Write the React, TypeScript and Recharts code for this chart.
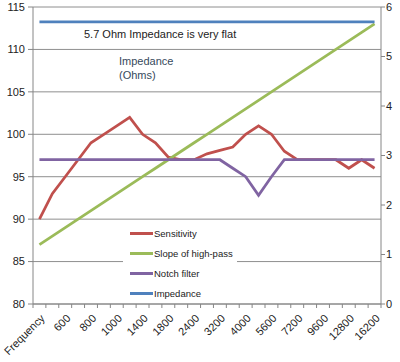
import React from "react";
import {
  CartesianGrid,
  ComposedChart,
  Legend,
  Line,
  XAxis,
  YAxis
} from "recharts";

const frequencies = [
  "Frequency", "500", "600", "700", "800", "900", "1000", "1200", "1400",
  "1600", "1800", "2000", "2400", "2800", "3200", "3600", "4000", "4800",
  "5600", "6400", "7200", "8000", "9600", "11200", "12800", "14400", "16200"
];

const sensitivity = [
  90, 93, 95, 97, 99, 100, 101, 102, 100, 99, 97.3, 97, 97, 97.7, 98.1,
  98.5, 100, 101, 100, 98, 97, 97, 97, 97, 96, 97, 96
];

const highPassSlope = [
  87, 88, 89, 90, 91, 92, 93, 94, 95, 96, 97, 98, 99, 100, 101, 102, 103,
  104, 105, 106, 107, 108, 109, 110, 111, 112, 113
];

const notchFilter = [
  97, 97, 97, 97, 97, 97, 97, 97, 97, 97, 97, 97, 97, 97, 97, 96, 95, 92.8,
  95, 97, 97, 97, 97, 97, 97, 97, 97
];

const impedance = [
  5.7, 5.7, 5.7, 5.7, 5.7, 5.7, 5.7, 5.7, 5.7, 5.7, 5.7, 5.7, 5.7, 5.7, 5.7,
  5.7, 5.7, 5.7, 5.7, 5.7, 5.7, 5.7, 5.7, 5.7, 5.7, 5.7, 5.7
];

const seriesNames = ["Sensitivity", "Slope of high-pass", "Notch filter", "Impedance"];
const leftTicks = [80, 85, 90, 95, 100, 105, 110, 115];
const rightTicks = [0, 1, 2, 3, 4, 5, 6];

const data = frequencies.map((f, i) => ({
  freq: f,
  sensitivity: sensitivity[i],
  slope: highPassSlope[i],
  notch: notchFilter[i],
  impedance: impedance[i]
}));

const W = 400;
const H = 362;
const LEFT_W = 33;
const RIGHT_W = 19;
const STEP = (W - LEFT_W - RIGHT_W) / frequencies.length;
const AXIS = "#868686";
const FONT = "'Liberation Sans', Arial, sans-serif";

function FreqTick(props: any) {
  const { x, y, payload, index } = props;
  const last = index === frequencies.length - 1;
  return (
    <g>
      <line x1={x - STEP / 2} y1={y} x2={x - STEP / 2} y2={y + 4} stroke={AXIS} />
      {last && <line x1={x + STEP / 2} y1={y} x2={x + STEP / 2} y2={y + 4} stroke={AXIS} />}
      {index % 2 === 0 && (
        <text
          transform={`translate(${x + 6},${y + 15}) rotate(-45)`}
          textAnchor="end"
          fontSize={11}
          fontFamily={FONT}
          fill="#222"
        >
          {payload.value}
        </text>
      )}
    </g>
  );
}

function LegendBox({ payload }: any) {
  const items = [...(payload || [])].sort(
    (a: any, b: any) => seriesNames.indexOf(a.value) - seriesNames.indexOf(b.value)
  );
  return (
    <div style={{ background: "#fff", fontFamily: FONT, fontSize: 9.5, color: "#222", paddingLeft: 7 }}>
      {items.map((p: any) => (
        <div key={p.value} style={{ display: "flex", alignItems: "center", height: 20 }}>
          <span style={{ width: 23, borderTop: `3px solid ${p.color}`, marginRight: 1 }} />
          <span>{p.value}</span>
        </div>
      ))}
    </div>
  );
}

export default function App() {
  return (
    <div style={{ position: "absolute", left: 0, top: 0, width: W, height: H, background: "#fff", fontFamily: FONT }}>
      <ComposedChart width={W} height={H} data={data} margin={{ top: 7, right: 0, bottom: 0, left: 0 }}>
        <CartesianGrid yAxisId="left" vertical={false} stroke="#8e8e8e" />
        <XAxis
          dataKey="freq"
          interval={0}
          height={58}
          tickSize={0}
          tickMargin={0}
          padding={{ left: STEP / 2, right: STEP / 2 }}
          stroke={AXIS}
          tick={<FreqTick />}
        />
        <YAxis
          yAxisId="left"
          width={LEFT_W}
          domain={[80, 115]}
          ticks={leftTicks}
          tickSize={5}
          tickMargin={3}
          stroke={AXIS}
          tick={{ fontSize: 11, fill: "#222", fontFamily: FONT }}
        />
        <YAxis
          yAxisId="right"
          orientation="right"
          width={RIGHT_W}
          domain={[0, 6]}
          ticks={rightTicks}
          tickSize={4}
          tickMargin={1}
          stroke={AXIS}
          tick={{ fontSize: 11, fill: "#222", fontFamily: FONT }}
        />
        <Line yAxisId="left" dataKey="sensitivity" name="Sensitivity" stroke="#C0504D" strokeWidth={2.75} dot={false} isAnimationActive={false} />
        <Line yAxisId="left" dataKey="slope" name="Slope of high-pass" stroke="#9BBB59" strokeWidth={2.75} dot={false} isAnimationActive={false} />
        <Line yAxisId="left" dataKey="notch" name="Notch filter" stroke="#8064A2" strokeWidth={2.75} dot={false} isAnimationActive={false} />
        <Line yAxisId="right" dataKey="impedance" name="Impedance" stroke="#4F81BD" strokeWidth={2.75} dot={false} isAnimationActive={false} />
        <Legend
          layout="vertical"
          align="center"
          verticalAlign="middle"
          content={<LegendBox />}
          wrapperStyle={{ left: 123, top: 223, width: 114, height: 80 }}
        />
      </ComposedChart>
      <div style={{ position: "absolute", left: 84, top: 28, fontSize: 11, lineHeight: "13px", color: "#222", whiteSpace: "nowrap" }}>
        5.7 Ohm Impedance is very flat
      </div>
      <div style={{ position: "absolute", left: 119, top: 54, fontSize: 11, lineHeight: "14px", color: "#36495c", whiteSpace: "nowrap" }}>
        Impedance
        <br />
        (Ohms)
      </div>
    </div>
  );
}
